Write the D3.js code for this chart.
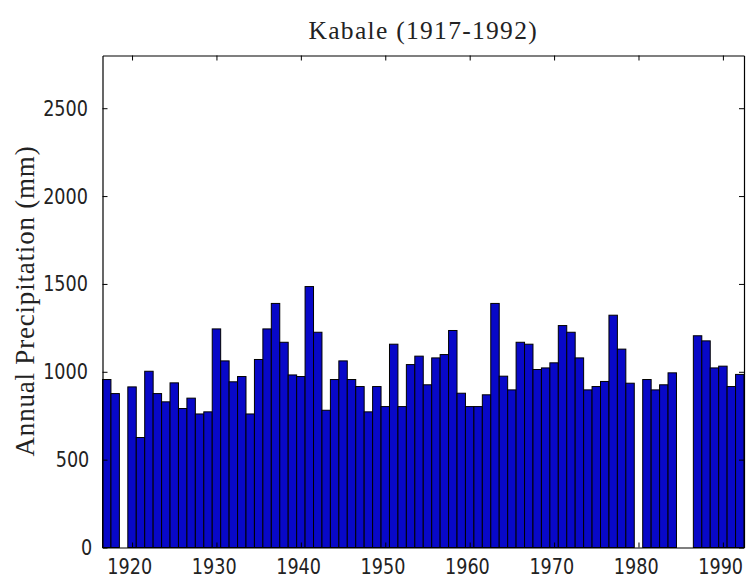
<!DOCTYPE html>
<html>
<head>
<meta charset="utf-8">
<script src="https://d3js.org/d3.v7.min.js"></script>
<style>
  body { margin: 0; background: #fff; }
</style>
</head>
<body>
<svg width="746" height="576"></svg>
<script>
// annual totals (null = no record that year)
var years = d3.range(1917, 1993);
var precip = [
  956, 876, null, 914, 626, 1003, 876, 829, 937, 791,   // 1917-1926
  850, 760, 772, 1244, 1062, 943, 973, 760, 1070, 1244, // 1927-1936
  1389, 1168, 982, 973, 1485, 1225, 781, 956, 1062, 956, // 1937-1946
  916, 772, 916, 802, 1157, 802, 1041, 1089, 926, 1079,  // 1947-1956
  1098, 1235, 878, 802, 802, 869, 1389, 975, 897, 1168,  // 1957-1966
  1157, 1013, 1022, 1051, 1263, 1225, 1079, 897, 916, 945, // 1967-1976
  1322, 1129, 935, null, 956, 897, 926, 994, null, null, // 1977-1986
  1205, 1176, 1022, 1032, 916, 985                       // 1987-1992
];
var xTicks = [1920, 1930, 1940, 1950, 1960, 1970, 1980, 1990];
var yTicks = [0, 500, 1000, 1500, 2000, 2500];

var svg = d3.select("svg");
var pLeft = 102.5, pRight = 744, pTop = 55.5, pBottom = 547.5;

var x = d3.scaleLinear().domain([1916.5, 1992.5]).range([pLeft, pRight]);
var y = d3.scaleLinear().domain([0, 2800]).range([pBottom, pTop]);

var data = years.map(function(yr, i) { return {year: yr, value: precip[i]}; })
  .filter(function(d) { return d.value != null; });

svg.append("g").selectAll("rect")
  .data(data)
  .enter().append("rect")
    .attr("x", function(d) { return x(d.year - 0.5); })
    .attr("width", function(d) { return x(d.year + 0.5) - x(d.year - 0.5); })
    .attr("y", function(d) { return y(d.value); })
    .attr("height", function(d) { return y(0) - y(d.value); })
    .attr("fill", "#0808c8")
    .attr("stroke", "#000")
    .attr("stroke-width", 1);

var tickFont = "'DejaVu Sans Condensed', 'Liberation Sans', sans-serif";

var gx = svg.append("g").attr("transform", "translate(0," + pBottom + ")")
  .call(d3.axisBottom(x).tickValues(xTicks).tickFormat(d3.format("d"))
    .tickSizeInner(-5).tickSizeOuter(0).tickPadding(10.5));
var gy = svg.append("g").attr("transform", "translate(" + pLeft + ",0)")
  .call(d3.axisLeft(y).tickValues(yTicks).tickFormat(d3.format("d"))
    .tickSizeInner(-5).tickSizeOuter(0).tickPadding(9));
var gt = svg.append("g").attr("transform", "translate(0," + pTop + ")")
  .call(d3.axisTop(x).tickValues(xTicks).tickFormat("").tickSizeInner(-5).tickSizeOuter(0));
var gr = svg.append("g").attr("transform", "translate(" + pRight + ",0)")
  .call(d3.axisRight(y).tickValues(yTicks).tickFormat("").tickSizeInner(-5).tickSizeOuter(0));

[gx, gy, gt, gr].forEach(function(g) {
  g.selectAll(".domain").attr("stroke", "#000").attr("stroke-width", 1.2);
  g.selectAll(".tick line").attr("stroke", "#000");
});

// narrow the tick labels to the squeezed look of the original
function squeeze(sel, anchorShift) {
  sel.selectAll("text")
    .attr("font-family", tickFont)
    .attr("font-size", 22)
    .attr("fill", "#222")
    .each(function(d) {
      var t = d3.select(this);
      var w = this.getComputedTextLength();
      var target = String(d).length * 11.2;
      var x0 = +t.attr("x") || 0;
      t.attr("x", x0 - (w - target) * anchorShift)
        .attr("textLength", target)
        .attr("lengthAdjust", "spacingAndGlyphs");
    });
}
squeeze(gx, 0.5);
squeeze(gy, 1);

svg.append("text")
  .attr("x", (pLeft + pRight) / 2)
  .attr("y", 38.5)
  .attr("text-anchor", "middle")
  .attr("font-family", "'Liberation Serif', 'Times New Roman', serif")
  .attr("font-size", 25.5)
  .attr("letter-spacing", 1.3)
  .attr("fill", "#222")
  .text("Kabale (1917-1992)");

svg.append("text")
  .attr("transform", "translate(34," + 301 + ") rotate(-90)")
  .attr("text-anchor", "middle")
  .attr("font-family", "'Liberation Serif', 'Times New Roman', serif")
  .attr("font-size", 27)
  .attr("letter-spacing", 0.8)
  .attr("fill", "#222")
  .text("Annual Precipitation (mm)");
</script>
</body>
</html>
